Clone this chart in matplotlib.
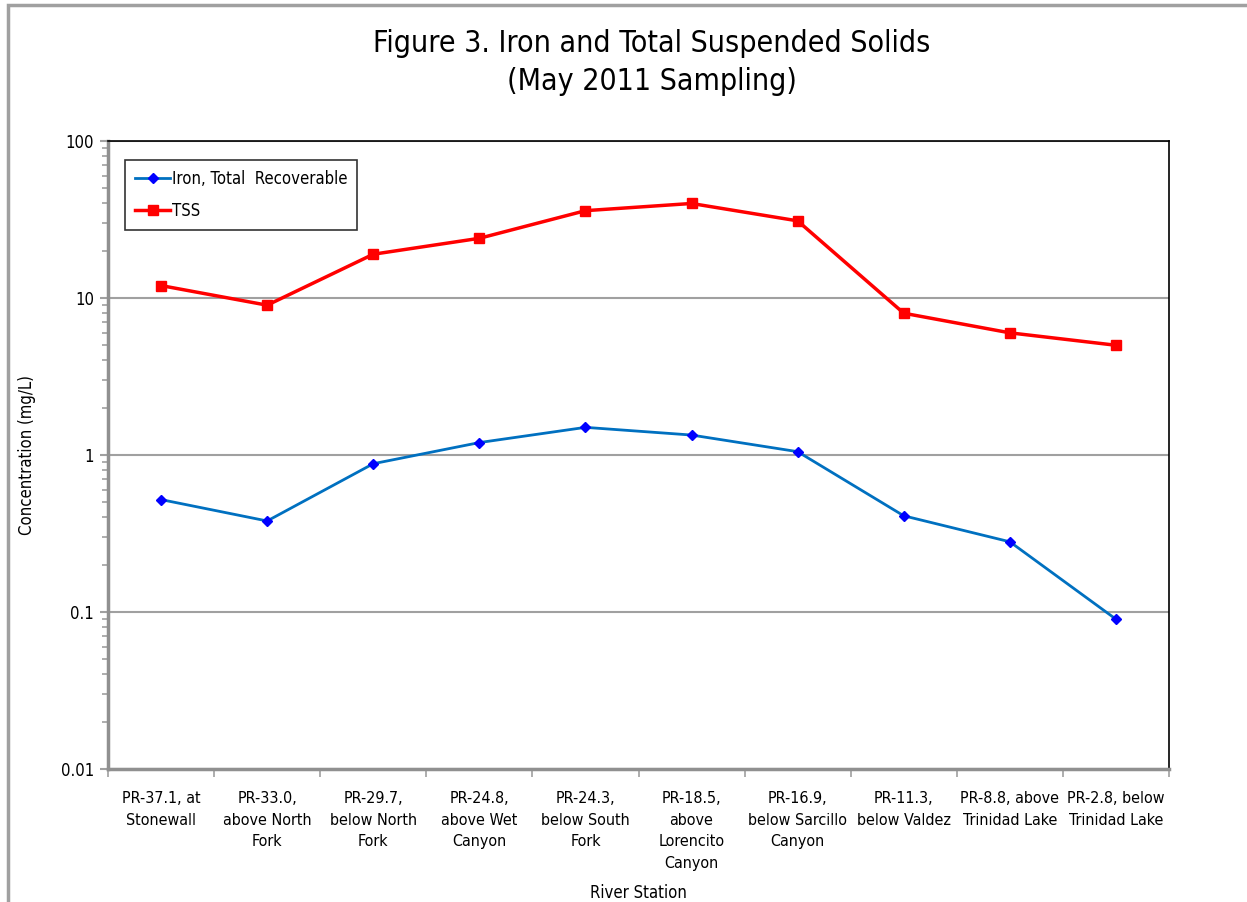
import matplotlib
matplotlib.use("Agg")
import matplotlib.pyplot as plt
from matplotlib.patches import Rectangle
from matplotlib.ticker import FixedLocator, LogLocator, NullFormatter, FixedFormatter

plt.rcParams['font.family'] = ['DejaVu Sans']
plt.rcParams['font.stretch'] = 'condensed'

stations = [
    "PR-37.1, at\nStonewall",
    "PR-33.0,\nabove North\nFork",
    "PR-29.7,\nbelow North\nFork",
    "PR-24.8,\nabove Wet\nCanyon",
    "PR-24.3,\nbelow South\nFork",
    "PR-18.5,\nabove\nLorencito\nCanyon",
    "PR-16.9,\nbelow Sarcillo\nCanyon",
    "PR-11.3,\nbelow Valdez",
    "PR-8.8, above\nTrinidad Lake",
    "PR-2.8, below\nTrinidad Lake",
]
iron = [0.52, 0.38, 0.88, 1.2, 1.5, 1.34, 1.05, 0.41, 0.28, 0.09]
tss = [12, 9, 19, 24, 36, 40, 31, 8, 6, 5]
ytick_vals = [0.01, 0.1, 1, 10, 100]
ytick_labels = ["0.01", "0.1", "1", "10", "100"]

fig = plt.figure(figsize=(12.47, 9.02), dpi=100)
fig.patches.append(Rectangle((8/1247, -0.05), 1.1, 1 - 5/902 + 0.05,
                             transform=fig.transFigure, fill=False,
                             edgecolor='#a0a0a0', linewidth=2.5))

ax = fig.add_axes([108/1247, 1 - 769/902, (1169 - 108)/1247, (769 - 141)/902])
x = list(range(len(stations)))

ax.plot(x, iron, color='#0070C0', linewidth=2, marker='D', markersize=5,
        markerfacecolor='#0000FF', markeredgecolor='#0000FF', label='Iron, Total  Recoverable')
ax.plot(x, tss, color='#FF0000', linewidth=2.5, marker='s', markersize=7,
        markerfacecolor='#FF0000', markeredgecolor='#FF0000', label='TSS')

ax.set_yscale('log')
ax.set_ylim(0.01, 100)
ax.set_xlim(-0.5, len(stations) - 0.5)
ax.yaxis.set_major_locator(FixedLocator(ytick_vals))
ax.yaxis.set_major_formatter(FixedFormatter(ytick_labels))
ax.yaxis.set_minor_locator(LogLocator(base=10, subs=range(2, 10)))
ax.yaxis.set_minor_formatter(NullFormatter())
ax.grid(axis='y', which='major', color='#a0a0a0', linewidth=1.5)
ax.set_axisbelow(True)

ax.set_xticks(x)
ax.set_xticklabels(stations, fontsize=11.5, linespacing=1.55, va='top')
ax.set_xticks([i + 0.5 for i in range(-1, len(stations))], minor=True)
ax.tick_params(axis='x', which='major', length=0, pad=16)
ax.tick_params(axis='x', which='minor', length=6, color='#a0a0a0', width=1.2)
ax.tick_params(axis='y', which='major', length=6, color='#a0a0a0', width=1.5, labelsize=12, pad=4)
ax.tick_params(axis='y', which='minor', length=4, color='#a0a0a0', width=1.2)

ax.spines['left'].set_color('#909090')
ax.spines['left'].set_linewidth(2.5)
ax.spines['bottom'].set_color('#909090')
ax.spines['bottom'].set_linewidth(2.5)
ax.spines['top'].set_color('black')
ax.spines['top'].set_linewidth(1.2)
ax.spines['right'].set_color('black')
ax.spines['right'].set_linewidth(1.2)

ax.set_ylabel('Concentration (mg/L)', fontsize=12, labelpad=18)
fig.text(638/1247, 1 - 893/902, 'River Station', ha='center', va='center', fontsize=12)

leg = ax.legend(loc='upper left', bbox_to_anchor=(17/1061, 1 - 19/628), fontsize=12,
                frameon=True, fancybox=False, edgecolor='black', borderpad=0.6,
                labelspacing=0.85, handlelength=2.1, handletextpad=0.1, borderaxespad=0)
leg.get_frame().set_linewidth(1.2)

fig.text(652/1247, 1 - 44/902, 'Figure 3. Iron and Total Suspended Solids', ha='center', va='center', fontsize=21.7)
fig.text(652/1247, 1 - 82/902, '(May 2011 Sampling)', ha='center', va='center', fontsize=21.7)

fig.savefig('out.png', dpi=100)
